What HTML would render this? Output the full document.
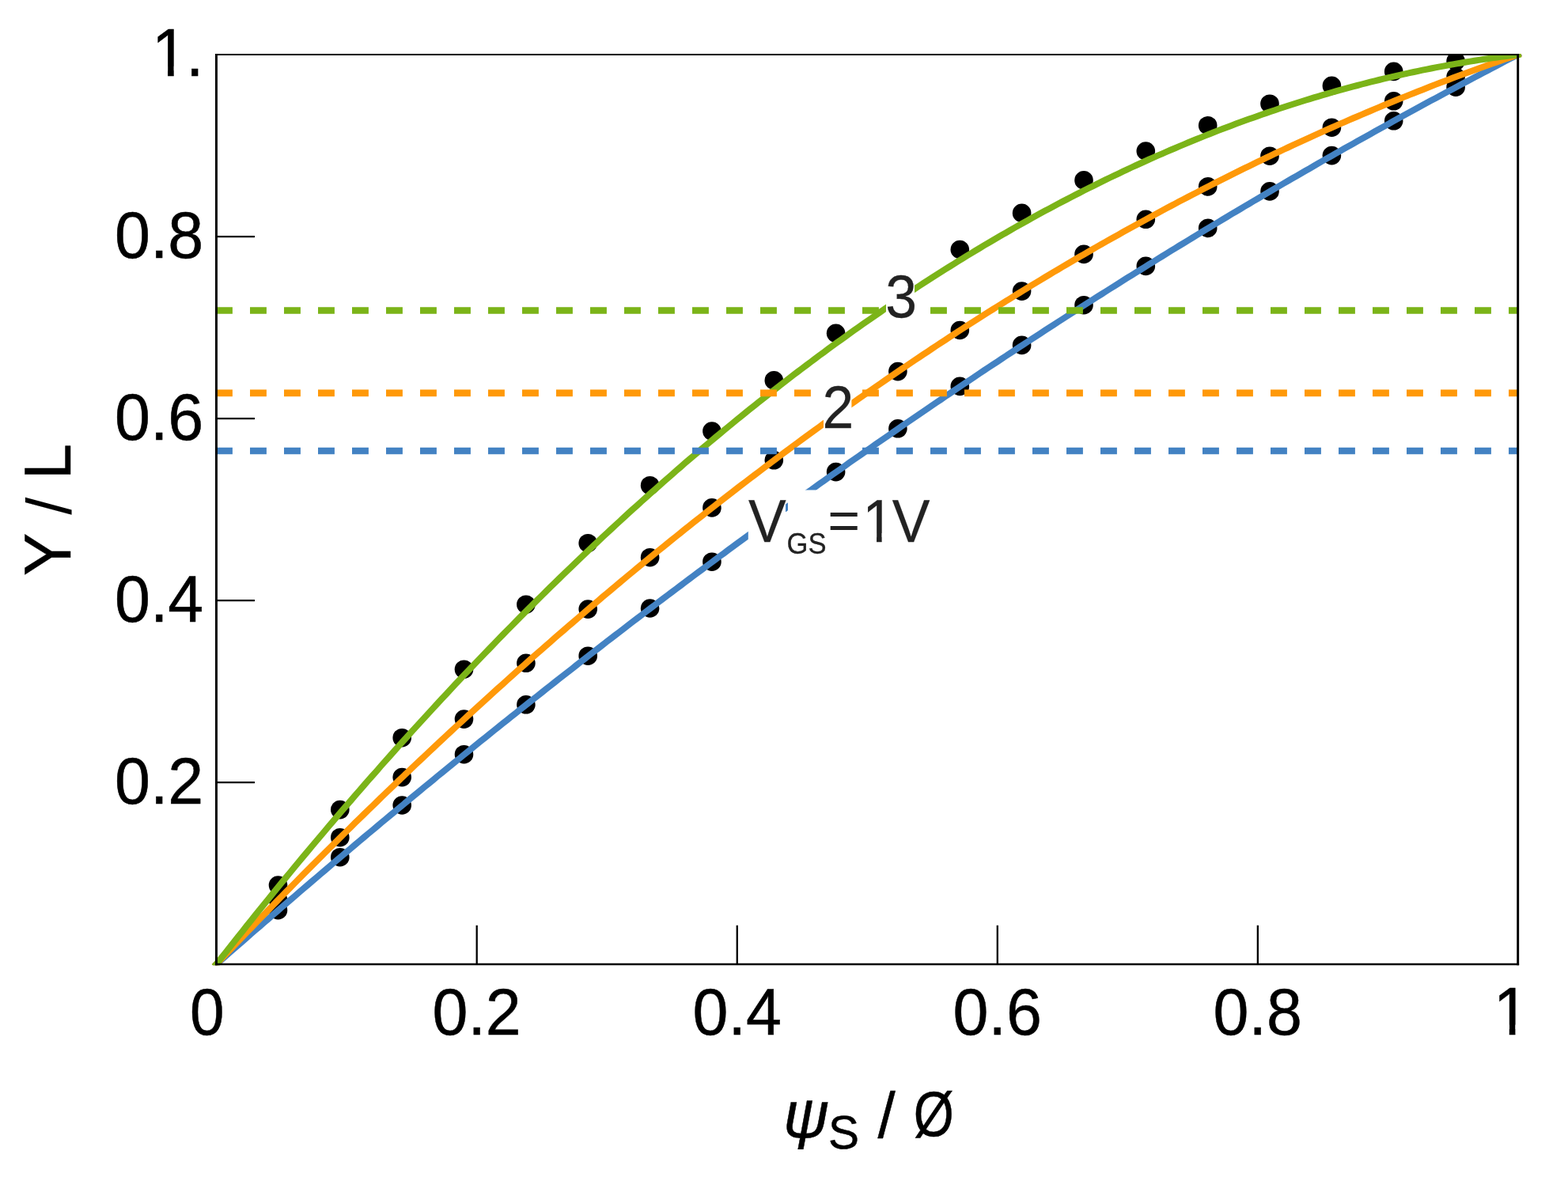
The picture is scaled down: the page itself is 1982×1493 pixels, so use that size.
<!DOCTYPE html>
<html lang="en">
<head>
<meta charset="utf-8">
<title>Y / L vs ψS / Ø</title>
<style>
html,body{margin:0;padding:0;background:#ffffff;}
body{width:1982px;height:1493px;overflow:hidden;font-family:"Liberation Sans",sans-serif;}
svg{display:block;}
text{white-space:pre;}
.t{font-family:"Liberation Sans",sans-serif;}
</style>
</head>
<body>
<svg width="1982" height="1493" viewBox="0 0 1982 1493" >
<defs>
<clipPath id="plotclip"><rect x="0" y="68.10" width="1982" height="1152.05"/></clipPath>
<clipPath id="one1"><path d="M1070.20 599.20H1161.70V673.88H1114.62V689.00H1108.05V673.88H1070.20Z"/></clipPath>
<clipPath id="one2"><path d="M172.00 -0.76H272.80V83.69H219.71V100.20H212.07V83.69H172.00Z"/></clipPath>
<clipPath id="one3"><path d="M1867.70 1211.04H1968.50V1295.49H1915.41V1312.00H1907.77V1295.49H1867.70Z"/></clipPath>
<clipPath id="psiclip"><rect x="980" y="1391.2" width="80" height="61.9"/></clipPath>
</defs>
<rect width="1982" height="1493" fill="#ffffff"/>
<g id="markers" fill="#000000" clip-path="url(#plotclip)">
<circle cx="351.5" cy="1150.7" r="11.8"/>
<circle cx="429.8" cy="1083.7" r="11.8"/>
<circle cx="508.2" cy="1018.0" r="11.8"/>
<circle cx="586.5" cy="953.7" r="11.8"/>
<circle cx="664.9" cy="890.8" r="11.8"/>
<circle cx="743.2" cy="829.2" r="11.8"/>
<circle cx="821.6" cy="769.0" r="11.8"/>
<circle cx="899.9" cy="710.2" r="11.8"/>
<circle cx="978.3" cy="652.7" r="11.8"/>
<circle cx="1056.6" cy="596.6" r="11.8"/>
<circle cx="1134.9" cy="541.8" r="11.8"/>
<circle cx="1213.3" cy="488.4" r="11.8"/>
<circle cx="1291.6" cy="436.4" r="11.8"/>
<circle cx="1370.0" cy="385.7" r="11.8"/>
<circle cx="1448.3" cy="336.4" r="11.8"/>
<circle cx="1526.7" cy="288.4" r="11.8"/>
<circle cx="1605.0" cy="241.9" r="11.8"/>
<circle cx="1683.4" cy="196.6" r="11.8"/>
<circle cx="1761.7" cy="152.8" r="11.8"/>
<circle cx="1840.1" cy="110.2" r="11.8"/>
<circle cx="351.5" cy="1137.5" r="11.8"/>
<circle cx="429.8" cy="1058.7" r="11.8"/>
<circle cx="508.2" cy="982.6" r="11.8"/>
<circle cx="586.5" cy="909.1" r="11.8"/>
<circle cx="664.9" cy="838.3" r="11.8"/>
<circle cx="743.2" cy="770.1" r="11.8"/>
<circle cx="821.6" cy="704.7" r="11.8"/>
<circle cx="899.9" cy="641.9" r="11.8"/>
<circle cx="978.3" cy="581.8" r="11.8"/>
<circle cx="1056.6" cy="524.3" r="11.8"/>
<circle cx="1134.9" cy="469.6" r="11.8"/>
<circle cx="1213.3" cy="417.5" r="11.8"/>
<circle cx="1291.6" cy="368.1" r="11.8"/>
<circle cx="1370.0" cy="321.4" r="11.8"/>
<circle cx="1448.3" cy="277.3" r="11.8"/>
<circle cx="1526.7" cy="235.9" r="11.8"/>
<circle cx="1605.0" cy="197.2" r="11.8"/>
<circle cx="1683.4" cy="161.2" r="11.8"/>
<circle cx="1761.7" cy="127.8" r="11.8"/>
<circle cx="1840.1" cy="97.1" r="11.8"/>
<circle cx="351.5" cy="1119.1" r="11.8"/>
<circle cx="429.8" cy="1023.6" r="11.8"/>
<circle cx="508.2" cy="932.7" r="11.8"/>
<circle cx="586.5" cy="846.2" r="11.8"/>
<circle cx="664.9" cy="764.2" r="11.8"/>
<circle cx="743.2" cy="686.7" r="11.8"/>
<circle cx="821.6" cy="613.7" r="11.8"/>
<circle cx="899.9" cy="545.1" r="11.8"/>
<circle cx="978.3" cy="480.9" r="11.8"/>
<circle cx="1056.6" cy="421.3" r="11.8"/>
<circle cx="1134.9" cy="366.1" r="11.8"/>
<circle cx="1213.3" cy="315.5" r="11.8"/>
<circle cx="1291.6" cy="269.4" r="11.8"/>
<circle cx="1370.0" cy="227.9" r="11.8"/>
<circle cx="1448.3" cy="191.0" r="11.8"/>
<circle cx="1526.7" cy="158.7" r="11.8"/>
<circle cx="1605.0" cy="131.2" r="11.8"/>
<circle cx="1683.4" cy="108.4" r="11.8"/>
<circle cx="1761.7" cy="90.4" r="11.8"/>
<circle cx="1840.1" cy="77.3" r="11.8"/>
</g>
<g id="curves" fill="none" stroke-width="8.0" stroke-linecap="square" stroke-linejoin="round" clip-path="url(#plotclip)">
<polyline stroke="#4382c3" points="273.4,1219.0 278.9,1214.2 284.4,1209.4 289.9,1204.6 295.4,1199.8 300.9,1195.0 306.4,1190.2 311.8,1185.4 317.3,1180.6 322.8,1175.8 328.3,1171.1 333.8,1166.3 339.3,1161.6 344.7,1156.8 350.2,1152.1 355.7,1147.3 361.2,1142.6 366.7,1137.9 372.2,1133.2 377.6,1128.5 383.1,1123.8 388.6,1119.1 394.1,1114.4 399.6,1109.7 405.1,1105.0 410.6,1100.4 416.0,1095.7 421.5,1091.0 427.0,1086.4 432.5,1081.8 438.0,1077.1 443.5,1072.5 448.9,1067.9 454.4,1063.3 459.9,1058.6 465.4,1054.0 470.9,1049.5 476.4,1044.9 481.8,1040.3 487.3,1035.7 492.8,1031.1 498.3,1026.6 503.8,1022.0 509.3,1017.5 514.8,1012.9 520.2,1008.4 525.7,1003.9 531.2,999.4 536.7,994.8 542.2,990.3 547.7,985.8 553.1,981.3 558.6,976.8 564.1,972.4 569.6,967.9 575.1,963.4 580.6,959.0 586.0,954.5 591.5,950.1 597.0,945.6 602.5,941.2 608.0,936.7 613.5,932.3 619.0,927.9 624.4,923.5 629.9,919.1 635.4,914.7 640.9,910.3 646.4,905.9 651.9,901.6 657.3,897.2 662.8,892.8 668.3,888.5 673.8,884.1 679.3,879.8 684.8,875.5 690.2,871.1 695.7,866.8 701.2,862.5 706.7,858.2 712.2,853.9 717.7,849.6 723.2,845.3 728.6,841.0 734.1,836.7 739.6,832.5 745.1,828.2 750.6,823.9 756.1,819.7 761.5,815.5 767.0,811.2 772.5,807.0 778.0,802.8 783.5,798.6 789.0,794.3 794.4,790.1 799.9,785.9 805.4,781.8 810.9,777.6 816.4,773.4 821.9,769.2 827.4,765.1 832.8,760.9 838.3,756.8 843.8,752.6 849.3,748.5 854.8,744.4 860.3,740.2 865.7,736.1 871.2,732.0 876.7,727.9 882.2,723.8 887.7,719.7 893.2,715.6 898.6,711.6 904.1,707.5 909.6,703.4 915.1,699.4 920.6,695.3 926.1,691.3 931.5,687.2 937.0,683.2 942.5,679.2 948.0,675.2 953.5,671.2 959.0,667.2 964.5,663.2 969.9,659.2 975.4,655.2 980.9,651.2 986.4,647.3 991.9,643.3 997.4,639.3 1002.8,635.4 1008.3,631.4 1013.8,627.5 1019.3,623.6 1024.8,619.7 1030.3,615.7 1035.7,611.8 1041.2,607.9 1046.7,604.0 1052.2,600.1 1057.7,596.3 1063.2,592.4 1068.7,588.5 1074.1,584.6 1079.6,580.8 1085.1,576.9 1090.6,573.1 1096.1,569.3 1101.6,565.4 1107.0,561.6 1112.5,557.8 1118.0,554.0 1123.5,550.2 1129.0,546.4 1134.5,542.6 1139.9,538.8 1145.4,535.0 1150.9,531.3 1156.4,527.5 1161.9,523.7 1167.4,520.0 1172.9,516.2 1178.3,512.5 1183.8,508.8 1189.3,505.1 1194.8,501.3 1200.3,497.6 1205.8,493.9 1211.2,490.2 1216.7,486.5 1222.2,482.9 1227.7,479.2 1233.2,475.5 1238.7,471.8 1244.1,468.2 1249.6,464.5 1255.1,460.9 1260.6,457.3 1266.1,453.6 1271.6,450.0 1277.1,446.4 1282.5,442.8 1288.0,439.2 1293.5,435.6 1299.0,432.0 1304.5,428.4 1310.0,424.8 1315.4,421.3 1320.9,417.7 1326.4,414.1 1331.9,410.6 1337.4,407.0 1342.9,403.5 1348.3,400.0 1353.8,396.4 1359.3,392.9 1364.8,389.4 1370.3,385.9 1375.8,382.4 1381.3,378.9 1386.7,375.4 1392.2,372.0 1397.7,368.5 1403.2,365.0 1408.7,361.6 1414.2,358.1 1419.6,354.7 1425.1,351.2 1430.6,347.8 1436.1,344.4 1441.6,341.0 1447.1,337.6 1452.5,334.2 1458.0,330.8 1463.5,327.4 1469.0,324.0 1474.5,320.6 1480.0,317.2 1485.5,313.9 1490.9,310.5 1496.4,307.2 1501.9,303.8 1507.4,300.5 1512.9,297.1 1518.4,293.8 1523.8,290.5 1529.3,287.2 1534.8,283.9 1540.3,280.6 1545.8,277.3 1551.3,274.0 1556.7,270.7 1562.2,267.5 1567.7,264.2 1573.2,260.9 1578.7,257.7 1584.2,254.4 1589.7,251.2 1595.1,248.0 1600.6,244.8 1606.1,241.5 1611.6,238.3 1617.1,235.1 1622.6,231.9 1628.0,228.7 1633.5,225.5 1639.0,222.4 1644.5,219.2 1650.0,216.0 1655.5,212.9 1660.9,209.7 1666.4,206.6 1671.9,203.4 1677.4,200.3 1682.9,197.2 1688.4,194.1 1693.8,191.0 1699.3,187.8 1704.8,184.7 1710.3,181.7 1715.8,178.6 1721.3,175.5 1726.8,172.4 1732.2,169.4 1737.7,166.3 1743.2,163.2 1748.7,160.2 1754.2,157.2 1759.7,154.1 1765.1,151.1 1770.6,148.1 1776.1,145.1 1781.6,142.1 1787.1,139.1 1792.6,136.1 1798.0,133.1 1803.5,130.1 1809.0,127.1 1814.5,124.2 1820.0,121.2 1825.5,118.3 1831.0,115.3 1836.4,112.4 1841.9,109.5 1847.4,106.5 1852.9,103.6 1858.4,100.7 1863.9,97.8 1869.3,94.9 1874.8,92.0 1880.3,89.1 1885.8,86.2 1891.3,83.4 1896.8,80.5 1902.2,77.6 1907.7,74.8 1913.2,71.9 1918.7,69.1"/>
<polyline stroke="#ff9909" points="273.4,1219.0 278.9,1213.3 284.4,1207.5 289.9,1201.7 295.4,1196.0 300.9,1190.2 306.4,1184.5 311.8,1178.8 317.3,1173.1 322.8,1167.4 328.3,1161.7 333.8,1156.1 339.3,1150.4 344.7,1144.8 350.2,1139.1 355.7,1133.5 361.2,1127.9 366.7,1122.4 372.2,1116.8 377.6,1111.2 383.1,1105.7 388.6,1100.2 394.1,1094.6 399.6,1089.1 405.1,1083.6 410.6,1078.2 416.0,1072.7 421.5,1067.3 427.0,1061.8 432.5,1056.4 438.0,1051.0 443.5,1045.6 448.9,1040.2 454.4,1034.8 459.9,1029.5 465.4,1024.1 470.9,1018.8 476.4,1013.5 481.8,1008.1 487.3,1002.9 492.8,997.6 498.3,992.3 503.8,987.0 509.3,981.8 514.8,976.6 520.2,971.4 525.7,966.2 531.2,961.0 536.7,955.8 542.2,950.6 547.7,945.5 553.1,940.3 558.6,935.2 564.1,930.1 569.6,925.0 575.1,919.9 580.6,914.9 586.0,909.8 591.5,904.7 597.0,899.7 602.5,894.7 608.0,889.7 613.5,884.7 619.0,879.7 624.4,874.8 629.9,869.8 635.4,864.9 640.9,859.9 646.4,855.0 651.9,850.1 657.3,845.2 662.8,840.4 668.3,835.5 673.8,830.6 679.3,825.8 684.8,821.0 690.2,816.2 695.7,811.4 701.2,806.6 706.7,801.8 712.2,797.1 717.7,792.3 723.2,787.6 728.6,782.9 734.1,778.2 739.6,773.5 745.1,768.8 750.6,764.1 756.1,759.5 761.5,754.8 767.0,750.2 772.5,745.6 778.0,741.0 783.5,736.4 789.0,731.8 794.4,727.3 799.9,722.7 805.4,718.2 810.9,713.7 816.4,709.2 821.9,704.7 827.4,700.2 832.8,695.7 838.3,691.3 843.8,686.8 849.3,682.4 854.8,678.0 860.3,673.6 865.7,669.2 871.2,664.8 876.7,660.4 882.2,656.1 887.7,651.8 893.2,647.4 898.6,643.1 904.1,638.8 909.6,634.5 915.1,630.3 920.6,626.0 926.1,621.8 931.5,617.5 937.0,613.3 942.5,609.1 948.0,604.9 953.5,600.7 959.0,596.6 964.5,592.4 969.9,588.3 975.4,584.1 980.9,580.0 986.4,575.9 991.9,571.8 997.4,567.8 1002.8,563.7 1008.3,559.6 1013.8,555.6 1019.3,551.6 1024.8,547.6 1030.3,543.6 1035.7,539.6 1041.2,535.6 1046.7,531.7 1052.2,527.7 1057.7,523.8 1063.2,519.9 1068.7,516.0 1074.1,512.1 1079.6,508.2 1085.1,504.3 1090.6,500.5 1096.1,496.6 1101.6,492.8 1107.0,489.0 1112.5,485.2 1118.0,481.4 1123.5,477.6 1129.0,473.9 1134.5,470.1 1139.9,466.4 1145.4,462.7 1150.9,459.0 1156.4,455.3 1161.9,451.6 1167.4,447.9 1172.9,444.3 1178.3,440.6 1183.8,437.0 1189.3,433.4 1194.8,429.8 1200.3,426.2 1205.8,422.6 1211.2,419.0 1216.7,415.5 1222.2,411.9 1227.7,408.4 1233.2,404.9 1238.7,401.4 1244.1,397.9 1249.6,394.4 1255.1,391.0 1260.6,387.5 1266.1,384.1 1271.6,380.7 1277.1,377.3 1282.5,373.9 1288.0,370.5 1293.5,367.1 1299.0,363.8 1304.5,360.4 1310.0,357.1 1315.4,353.8 1320.9,350.5 1326.4,347.2 1331.9,343.9 1337.4,340.7 1342.9,337.4 1348.3,334.2 1353.8,331.0 1359.3,327.7 1364.8,324.5 1370.3,321.4 1375.8,318.2 1381.3,315.0 1386.7,311.9 1392.2,308.8 1397.7,305.6 1403.2,302.5 1408.7,299.4 1414.2,296.4 1419.6,293.3 1425.1,290.2 1430.6,287.2 1436.1,284.2 1441.6,281.2 1447.1,278.2 1452.5,275.2 1458.0,272.2 1463.5,269.2 1469.0,266.3 1474.5,263.3 1480.0,260.4 1485.5,257.5 1490.9,254.6 1496.4,251.7 1501.9,248.9 1507.4,246.0 1512.9,243.2 1518.4,240.3 1523.8,237.5 1529.3,234.7 1534.8,231.9 1540.3,229.1 1545.8,226.4 1551.3,223.6 1556.7,220.9 1562.2,218.2 1567.7,215.4 1573.2,212.7 1578.7,210.1 1584.2,207.4 1589.7,204.7 1595.1,202.1 1600.6,199.4 1606.1,196.8 1611.6,194.2 1617.1,191.6 1622.6,189.0 1628.0,186.5 1633.5,183.9 1639.0,181.4 1644.5,178.8 1650.0,176.3 1655.5,173.8 1660.9,171.3 1666.4,168.9 1671.9,166.4 1677.4,163.9 1682.9,161.5 1688.4,159.1 1693.8,156.7 1699.3,154.3 1704.8,151.9 1710.3,149.5 1715.8,147.2 1721.3,144.8 1726.8,142.5 1732.2,140.2 1737.7,137.9 1743.2,135.6 1748.7,133.3 1754.2,131.0 1759.7,128.8 1765.1,126.5 1770.6,124.3 1776.1,122.1 1781.6,119.9 1787.1,117.7 1792.6,115.5 1798.0,113.4 1803.5,111.2 1809.0,109.1 1814.5,106.9 1820.0,104.8 1825.5,102.7 1831.0,100.7 1836.4,98.6 1841.9,96.5 1847.4,94.5 1852.9,92.5 1858.4,90.4 1863.9,88.4 1869.3,86.4 1874.8,84.5 1880.3,82.5 1885.8,80.5 1891.3,78.6 1896.8,76.7 1902.2,74.8 1907.7,72.9 1913.2,71.0 1918.7,69.1"/>
<polyline stroke="#7bb418" points="273.4,1219.0 278.9,1212.1 284.4,1205.1 289.9,1198.1 295.4,1191.2 300.9,1184.3 306.4,1177.4 311.8,1170.5 317.3,1163.7 322.8,1156.8 328.3,1150.0 333.8,1143.2 339.3,1136.5 344.7,1129.7 350.2,1123.0 355.7,1116.3 361.2,1109.6 366.7,1103.0 372.2,1096.3 377.6,1089.7 383.1,1083.1 388.6,1076.6 394.1,1070.0 399.6,1063.5 405.1,1057.0 410.6,1050.5 416.0,1044.0 421.5,1037.6 427.0,1031.1 432.5,1024.7 438.0,1018.3 443.5,1012.0 448.9,1005.6 454.4,999.3 459.9,993.0 465.4,986.7 470.9,980.5 476.4,974.3 481.8,968.0 487.3,961.8 492.8,955.7 498.3,949.5 503.8,943.4 509.3,937.3 514.8,931.2 520.2,925.1 525.7,919.1 531.2,913.1 536.7,907.1 542.2,901.1 547.7,895.1 553.1,889.2 558.6,883.3 564.1,877.4 569.6,871.5 575.1,865.6 580.6,859.8 586.0,854.0 591.5,848.2 597.0,842.4 602.5,836.7 608.0,831.0 613.5,825.3 619.0,819.6 624.4,813.9 629.9,808.3 635.4,802.6 640.9,797.0 646.4,791.5 651.9,785.9 657.3,780.4 662.8,774.9 668.3,769.4 673.8,763.9 679.3,758.4 684.8,753.0 690.2,747.6 695.7,742.2 701.2,736.8 706.7,731.5 712.2,726.2 717.7,720.9 723.2,715.6 728.6,710.3 734.1,705.1 739.6,699.9 745.1,694.7 750.6,689.5 756.1,684.3 761.5,679.2 767.0,674.1 772.5,669.0 778.0,663.9 783.5,658.9 789.0,653.8 794.4,648.8 799.9,643.8 805.4,638.9 810.9,633.9 816.4,629.0 821.9,624.1 827.4,619.2 832.8,614.4 838.3,609.5 843.8,604.7 849.3,599.9 854.8,595.1 860.3,590.4 865.7,585.6 871.2,580.9 876.7,576.2 882.2,571.6 887.7,566.9 893.2,562.3 898.6,557.7 904.1,553.1 909.6,548.6 915.1,544.0 920.6,539.5 926.1,535.0 931.5,530.5 937.0,526.1 942.5,521.6 948.0,517.2 953.5,512.8 959.0,508.4 964.5,504.1 969.9,499.8 975.4,495.4 980.9,491.2 986.4,486.9 991.9,482.6 997.4,478.4 1002.8,474.2 1008.3,470.0 1013.8,465.9 1019.3,461.7 1024.8,457.6 1030.3,453.5 1035.7,449.4 1041.2,445.4 1046.7,441.3 1052.2,437.3 1057.7,433.3 1063.2,429.4 1068.7,425.4 1074.1,421.5 1079.6,417.6 1085.1,413.7 1090.6,409.8 1096.1,406.0 1101.6,402.2 1107.0,398.4 1112.5,394.6 1118.0,390.8 1123.5,387.1 1129.0,383.4 1134.5,379.7 1139.9,376.0 1145.4,372.3 1150.9,368.7 1156.4,365.1 1161.9,361.5 1167.4,357.9 1172.9,354.4 1178.3,350.9 1183.8,347.4 1189.3,343.9 1194.8,340.4 1200.3,337.0 1205.8,333.6 1211.2,330.2 1216.7,326.8 1222.2,323.4 1227.7,320.1 1233.2,316.8 1238.7,313.5 1244.1,310.2 1249.6,307.0 1255.1,303.7 1260.6,300.5 1266.1,297.3 1271.6,294.2 1277.1,291.0 1282.5,287.9 1288.0,284.8 1293.5,281.7 1299.0,278.7 1304.5,275.6 1310.0,272.6 1315.4,269.6 1320.9,266.6 1326.4,263.7 1331.9,260.7 1337.4,257.8 1342.9,254.9 1348.3,252.1 1353.8,249.2 1359.3,246.4 1364.8,243.6 1370.3,240.8 1375.8,238.0 1381.3,235.3 1386.7,232.6 1392.2,229.9 1397.7,227.2 1403.2,224.5 1408.7,221.9 1414.2,219.3 1419.6,216.7 1425.1,214.1 1430.6,211.5 1436.1,209.0 1441.6,206.5 1447.1,204.0 1452.5,201.5 1458.0,199.1 1463.5,196.7 1469.0,194.3 1474.5,191.9 1480.0,189.5 1485.5,187.2 1490.9,184.9 1496.4,182.6 1501.9,180.3 1507.4,178.0 1512.9,175.8 1518.4,173.6 1523.8,171.4 1529.3,169.2 1534.8,167.1 1540.3,164.9 1545.8,162.8 1551.3,160.7 1556.7,158.7 1562.2,156.6 1567.7,154.6 1573.2,152.6 1578.7,150.6 1584.2,148.7 1589.7,146.7 1595.1,144.8 1600.6,142.9 1606.1,141.0 1611.6,139.2 1617.1,137.3 1622.6,135.5 1628.0,133.7 1633.5,132.0 1639.0,130.2 1644.5,128.5 1650.0,126.8 1655.5,125.1 1660.9,123.4 1666.4,121.8 1671.9,120.2 1677.4,118.6 1682.9,117.0 1688.4,115.4 1693.8,113.9 1699.3,112.4 1704.8,110.9 1710.3,109.4 1715.8,108.0 1721.3,106.5 1726.8,105.1 1732.2,103.7 1737.7,102.4 1743.2,101.0 1748.7,99.7 1754.2,98.4 1759.7,97.1 1765.1,95.8 1770.6,94.6 1776.1,93.4 1781.6,92.2 1787.1,91.0 1792.6,89.8 1798.0,88.7 1803.5,87.6 1809.0,86.5 1814.5,85.4 1820.0,84.4 1825.5,83.4 1831.0,82.3 1836.4,81.4 1841.9,80.4 1847.4,79.5 1852.9,78.5 1858.4,77.6 1863.9,76.7 1869.3,75.9 1874.8,75.0 1880.3,74.2 1885.8,73.4 1891.3,72.7 1896.8,71.9 1902.2,71.2 1907.7,70.5 1913.2,69.8 1918.7,69.1"/>
</g>
<g id="levels" fill="none" stroke-width="8.7" stroke-dasharray="20.9 22.1">
<line stroke="#4382c3" x1="273" y1="570.0" x2="1918.7" y2="570.0"/>
<line stroke="#ff9909" x1="273" y1="496.8" x2="1918.7" y2="496.8"/>
<line stroke="#7bb418" x1="273" y1="392.5" x2="1918.7" y2="392.5"/>
</g>
<g fill="#ffffff">
<rect x="1120" y="340" width="36" height="68"/>
<rect x="1041" y="481" width="35.4" height="66"/>
<rect x="945.8" y="619.5" width="47.2" height="80"/>
<rect x="996" y="619.5" width="184" height="90"/>
</g>
<text transform="translate(1119.30,401.30) scale(1.0,1.062)" class="t" font-size="71.5" fill="#222222" stroke="#222222" stroke-width="0.25" text-anchor="start">3</text>
<text transform="translate(1039.60,541.20) scale(1.0,1.062)" class="t" font-size="71.5" fill="#222222" stroke="#222222" stroke-width="0.25" text-anchor="start">2</text>
<g id="vgs"><text transform="translate(945.90,685.00) scale(1.0,1.062)" class="t" font-size="71.5" fill="#222222" stroke="#222222" stroke-width="0.25" text-anchor="start">V</text><text transform="translate(994.60,699.60) scale(1.0,1.062)" class="t" font-size="34.6" fill="#222222" stroke="#222222" stroke-width="0.25" text-anchor="start">GS</text><text transform="translate(1046.40,681.50) scale(0.97,0.95)" class="t" font-size="71.5" fill="#222222" stroke="#222222" stroke-width="0.25" text-anchor="start">=</text><g clip-path="url(#one1)"><text transform="translate(1090.20,685.00) scale(1.0,1.062)" class="t" font-size="71.5" fill="#222222" stroke="#222222" stroke-width="0.25" text-anchor="start">1</text></g><text transform="translate(1127.80,685.00) scale(1.0,1.062)" class="t" font-size="71.5" fill="#222222" stroke="#222222" stroke-width="0.25" text-anchor="start">V</text></g>
<g id="frame" stroke="#000" fill="none">
<line x1="272.0" y1="69.1" x2="1920.1000000000001" y2="69.1" stroke-width="2"/>
<line x1="272.0" y1="1219.05" x2="1920.1000000000001" y2="1219.05" stroke-width="2.4"/>
<line x1="273.45" y1="68.1" x2="273.45" y2="1220.25" stroke-width="3"/>
<line x1="1918.7" y1="68.1" x2="1918.7" y2="1220.25" stroke-width="2.9"/>
<line x1="273.45" y1="989.06" x2="322" y2="989.06" stroke-width="2.3"/>
<line x1="602.70" y1="1219.05" x2="602.70" y2="1169.8" stroke-width="2.3"/>
<line x1="273.45" y1="759.07" x2="322" y2="759.07" stroke-width="2.3"/>
<line x1="931.75" y1="1219.05" x2="931.75" y2="1169.8" stroke-width="2.3"/>
<line x1="273.45" y1="529.08" x2="322" y2="529.08" stroke-width="2.3"/>
<line x1="1260.80" y1="1219.05" x2="1260.80" y2="1169.8" stroke-width="2.3"/>
<line x1="273.45" y1="299.09" x2="322" y2="299.09" stroke-width="2.3"/>
<line x1="1589.85" y1="1219.05" x2="1589.85" y2="1169.8" stroke-width="2.3"/>
</g>
<g id="yticks">
<text transform="translate(257.30,1015.76) scale(1.0,1.035)" class="t" font-size="80.8" fill="#000" stroke="#000" stroke-width="0.5" text-anchor="end">0.2</text>
<text transform="translate(257.30,785.77) scale(1.0,1.035)" class="t" font-size="80.8" fill="#000" stroke="#000" stroke-width="0.5" text-anchor="end">0.4</text>
<text transform="translate(257.30,555.78) scale(1.0,1.035)" class="t" font-size="80.8" fill="#000" stroke="#000" stroke-width="0.5" text-anchor="end">0.6</text>
<text transform="translate(257.30,325.79) scale(1.0,1.035)" class="t" font-size="80.8" fill="#000" stroke="#000" stroke-width="0.5" text-anchor="end">0.8</text>
<g><g clip-path="url(#one2)"><text transform="translate(192.00,96.20) scale(1.0,1.057)" class="t" font-size="80.8" fill="#000" stroke="#000" stroke-width="0.5" text-anchor="start">1</text></g><text transform="translate(234.90,95.80) scale(1.0,1.035)" class="t" font-size="80.8" fill="#000" stroke="#000" stroke-width="0.5" text-anchor="start">.</text></g>
</g>
<g id="xticks">
<text transform="translate(261.85,1307.80) scale(0.97,1.035)" class="t" font-size="80.8" fill="#000" stroke="#000" stroke-width="0.5" text-anchor="middle">0</text>
<text transform="translate(602.60,1307.80) scale(1.0,1.035)" class="t" font-size="80.8" fill="#000" stroke="#000" stroke-width="0.5" text-anchor="middle">0.2</text>
<text transform="translate(931.65,1307.80) scale(1.0,1.035)" class="t" font-size="80.8" fill="#000" stroke="#000" stroke-width="0.5" text-anchor="middle">0.4</text>
<text transform="translate(1260.70,1307.80) scale(1.0,1.035)" class="t" font-size="80.8" fill="#000" stroke="#000" stroke-width="0.5" text-anchor="middle">0.6</text>
<text transform="translate(1589.75,1307.80) scale(1.0,1.035)" class="t" font-size="80.8" fill="#000" stroke="#000" stroke-width="0.5" text-anchor="middle">0.8</text>
<g clip-path="url(#one3)"><text transform="translate(1887.70,1308.00) scale(1.0,1.057)" class="t" font-size="80.8" fill="#000" stroke="#000" stroke-width="0.5" text-anchor="start">1</text></g>
</g>
<g id="ylabel"><text transform="translate(89.30,728.00) rotate(-90) scale(1.0,1.03)" class="t" font-size="81.5" fill="#000" stroke="#000" stroke-width="0.5" text-anchor="start">Y </text><text transform="translate(90.10,650.80) rotate(-90) scale(0.97,0.986)" class="t" font-size="81.5" fill="#000" stroke="#000" stroke-width="0.1" text-anchor="start">/ </text><text transform="translate(89.30,606.20) rotate(-90) scale(1.0,1.03)" class="t" font-size="81.5" fill="#000" stroke="#000" stroke-width="0.5" text-anchor="start">L</text></g>
<g id="xlabel"><g clip-path="url(#psiclip)"><text transform="translate(990.00,1438.00) scale(1.0,1.035)" class="t" font-size="80" font-style="italic" fill="#000" stroke="#000" stroke-width="0.5" text-anchor="start">ψ</text></g><text transform="translate(1046.90,1452.30) scale(1.0,1.015)" class="t" font-size="58.5" fill="#000" stroke="#000" stroke-width="0.5" text-anchor="start">S </text><text transform="translate(1109.40,1438.00) scale(1.0,1.012)" class="t" font-size="80" fill="#000" stroke="#000" stroke-width="0.5" text-anchor="start">/ </text><text transform="translate(1154.80,1435.50) scale(0.82,1.0)" class="t" font-size="80" fill="#000" stroke="#000" stroke-width="0.5" text-anchor="start">Ø</text></g>
</svg>
</body>
</html>
